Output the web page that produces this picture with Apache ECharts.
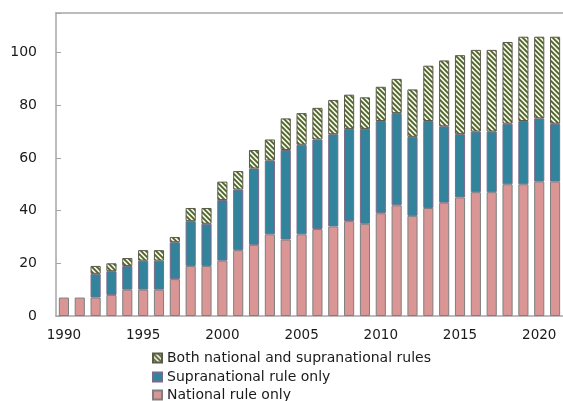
<!DOCTYPE html>
<html>
<head>
<meta charset="utf-8">
<script src="https://cdn.jsdelivr.net/npm/echarts@6/dist/echarts.min.js"></script>
<style>
  html, body { margin: 0; padding: 0; background: #fff; }
  #chart { width: 563px; height: 401px; }
</style>
</head>
<body>
<div id="chart"></div>
<script>
var years = [];
for (var y = 1990; y <= 2021; y++) years.push(String(y));

var nationalOnly = [7, 7, 7, 8, 10, 10, 10, 14, 19, 19, 21, 25, 27, 31, 29, 31, 33, 34, 36, 35, 39, 42, 38, 41, 43, 45, 47, 47, 50, 50, 51, 51];
var supraOnly = [0, 0, 9, 9, 9, 11, 11, 14, 17, 16, 23, 23, 29, 28, 34, 34, 34, 35, 35, 36, 35, 35, 30, 33, 29, 24, 23, 23, 23, 24, 24, 22];
var bothRules = [0, 0, 3, 3, 3, 4, 4, 2, 5, 6, 7, 7, 7, 8, 12, 12, 12, 13, 13, 12, 13, 13, 18, 21, 25, 30, 31, 31, 31, 32, 31, 33];
var yTicks = [0, 20, 40, 60, 80, 100];
var legendNames = ['Both national and supranational rules', 'Supranational rule only', 'National rule only'];

// empty segments should not draw a border line
function noZero(arr) {
    return arr.map(function (v) { return v === 0 ? null : v; });
}

// diagonal hatch for the "both" series
var hatch = document.createElement('canvas');
hatch.width = 5;
hatch.height = 5;
var ctx = hatch.getContext('2d');
ctx.fillStyle = '#f2f5e8';
ctx.fillRect(0, 0, 5, 5);
ctx.strokeStyle = '#4f6228';
ctx.lineWidth = 1.8;
ctx.beginPath();
ctx.moveTo(-2.5, -2.5); ctx.lineTo(7.5, 7.5);
ctx.moveTo(-2.5, 2.5); ctx.lineTo(2.5, 7.5);
ctx.moveTo(2.5, -2.5); ctx.lineTo(7.5, 2.5);
ctx.stroke();

var font = 'DejaVu Sans';

// one legend per line, the block runs to the bottom edge of the picture
var legendTops = [351, 370, 388];
var legends = legendNames.map(function (name, i) {
    return {
        left: 152,
        top: legendTops[i],
        padding: 0,
        itemWidth: 9,
        itemHeight: 9,
        itemGap: 6,
        icon: 'rect',
        textStyle: { fontFamily: font, fontSize: 14, color: '#1a1a1a' },
        data: [name]
    };
});

option = {
    animation: false,
    grid: {
        left: 56,
        top: 13,
        width: 509,
        bottom: 85
    },
    legend: legends,
    xAxis: [
        {
            type: 'category',
            data: years,
            axisLine: { lineStyle: { color: '#a6a6a6', width: 1.5 } },
            axisTick: { inside: true, interval: 4, length: 4, lineStyle: { color: '#a6a6a6' } },
            axisLabel: {
                interval: 4,
                margin: 12,
                fontFamily: font,
                fontSize: 13.5,
                color: '#1a1a1a'
            }
        },
        {
            type: 'category',
            position: 'top',
            data: years,
            axisLine: { lineStyle: { color: '#a6a6a6', width: 1.5 } },
            axisTick: { show: false },
            axisLabel: { show: false }
        }
    ],
    yAxis: {
        type: 'value',
        min: 0,
        max: 115,
        interval: 20,
        axisLine: { show: true, lineStyle: { color: '#a6a6a6', width: 1.5 } },
        axisTick: { show: true, inside: true, length: 5, lineStyle: { color: '#a6a6a6' } },
        splitLine: { show: false },
        axisLabel: {
            margin: 19,
            fontFamily: font,
            fontSize: 14,
            color: '#1a1a1a',
            formatter: function (v) { return yTicks.indexOf(v) >= 0 ? String(v) : ''; }
        }
    },
    series: [
        {
            name: 'National rule only',
            type: 'bar',
            stack: 'rules',
            barWidth: '64%',
            data: noZero(nationalOnly),
            itemStyle: { color: '#da9694', borderColor: '#7f7f7f', borderWidth: 1 }
        },
        {
            name: 'Supranational rule only',
            type: 'bar',
            stack: 'rules',
            data: noZero(supraOnly),
            itemStyle: { color: '#31849b', borderColor: '#7a6a8a', borderWidth: 1 }
        },
        {
            name: 'Both national and supranational rules',
            type: 'bar',
            stack: 'rules',
            data: noZero(bothRules),
            itemStyle: {
                color: { image: hatch, repeat: 'repeat' },
                borderColor: '#5a5a4a',
                borderWidth: 1
            }
        }
    ]
};

var myChart = echarts.init(document.getElementById('chart'));
myChart.setOption(option);
</script>
</body>
</html>
